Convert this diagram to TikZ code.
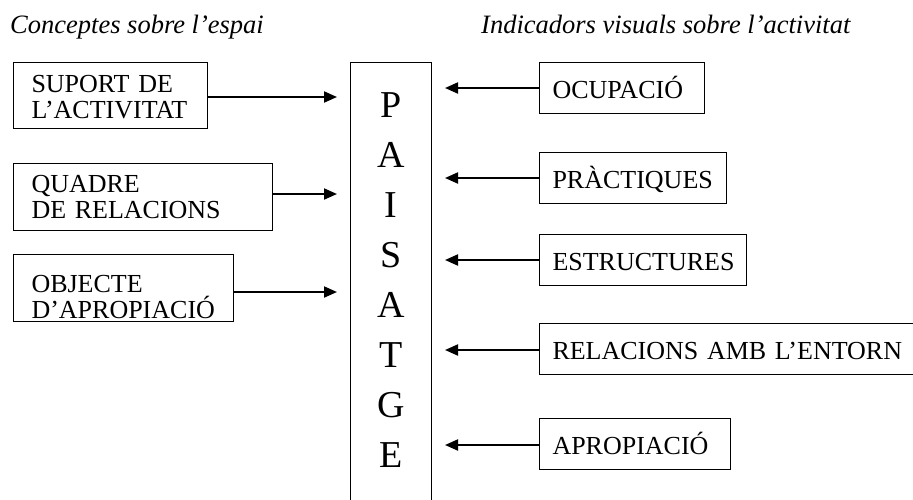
\documentclass[tikz,border=0pt]{standalone}
\usepackage{fontspec}
\setmainfont{Liberation Serif}
\usetikzlibrary{arrows.meta}
\begin{document}
\begin{tikzpicture}[x=1pt,y=-1pt,
  title/.style={anchor=base west, inner sep=0pt, font=\fontsize{26.5}{26.5}\selectfont\itshape},
  lbox/.style={draw, line width=1pt, rectangle, anchor=west, align=left,
    inner xsep=18pt, inner ysep=0pt, text depth=26pt, minimum height=67pt,
    font=\fontsize{26}{26}\selectfont},
  rbox/.style={draw, line width=1pt, rectangle, anchor=west, align=left,
    inner xsep=13pt, inner ysep=0pt, text height=21pt, text depth=0pt, minimum height=51pt,
    font=\fontsize{26}{26}\selectfont},
  pbox/.style={draw, line width=1pt, rectangle, anchor=north west, align=center,
    inner sep=0pt, minimum width=81pt, minimum height=450pt, text width=81pt,
    text height=10pt, text depth=350pt, font=\fontsize{38}{50}\selectfont},
  arr/.style={line width=2pt, -{Triangle[length=13pt,width=11pt]}}
]
\useasboundingbox (0,0) rectangle (913,499);
\clip (0,0) rectangle (913,499);

\node[title] (t1) at (10,33) {Conceptes sobre l’espai};
\node[title] (t2) at (481,33) {Indicadors visuals sobre l’activitat};

\node[lbox, minimum width=194pt, minimum height=66pt, text width=158pt, text height=19.4pt] (l1) at (13,95.3) {SUPORT DE\\L’ACTIVITAT};
\node[lbox, minimum width=259pt, text width=223pt, text height=17pt] (l2) at (13,196.5) {QUADRE\\DE RELACIONS};
\node[lbox, minimum width=220pt, text width=184pt, text height=35pt] (l3) at (13,287.5) {OBJECTE\\D’APROPIACIÓ};

\node[pbox] (pai) at (350,62) {P\\A\\I\\S\\A\\T\\G\\E};

\node[rbox, minimum width=165pt, text width=139pt] (r1) at (539,87.5) {OCUPACIÓ};
\node[rbox, minimum width=187pt, text width=161pt] (r2) at (539,178) {PRÀCTIQUES};
\node[rbox, minimum width=207pt, text width=181pt] (r3) at (539,259.7) {ESTRUCTURES};
\node[rbox, minimum width=380pt, text width=354pt] (r4) at (539,348.8) {RELACIONS AMB L’ENTORN};
\node[rbox, minimum width=191pt, text width=165pt] (r5) at (539,443.5) {APROPIACIÓ};

\coordinate (tipL) at (337,0);
\coordinate (tipR) at (445,0);

\draw[arr] ([yshift=-1.7pt]l1.east) -- ([yshift=-1.7pt]l1.east -| tipL);
\draw[arr] ([yshift=2.5pt]l2.east) -- ([yshift=2.5pt]l2.east -| tipL);
\draw[arr] ([yshift=-4.5pt]l3.east) -- ([yshift=-4.5pt]l3.east -| tipL);

\draw[arr] ([yshift=-0.5pt]r1.west) -- ([yshift=-0.5pt]r1.west -| tipR);
\draw[arr] (r2.west) -- (r2.west -| tipR);
\draw[arr] ([yshift=-0.3pt]r3.west) -- ([yshift=-0.3pt]r3.west -| tipR);
\draw[arr] ([yshift=-1.2pt]r4.west) -- ([yshift=-1.2pt]r4.west -| tipR);
\draw[arr] ([yshift=-1.5pt]r5.west) -- ([yshift=-1.5pt]r5.west -| tipR);
\end{tikzpicture}
\end{document}
